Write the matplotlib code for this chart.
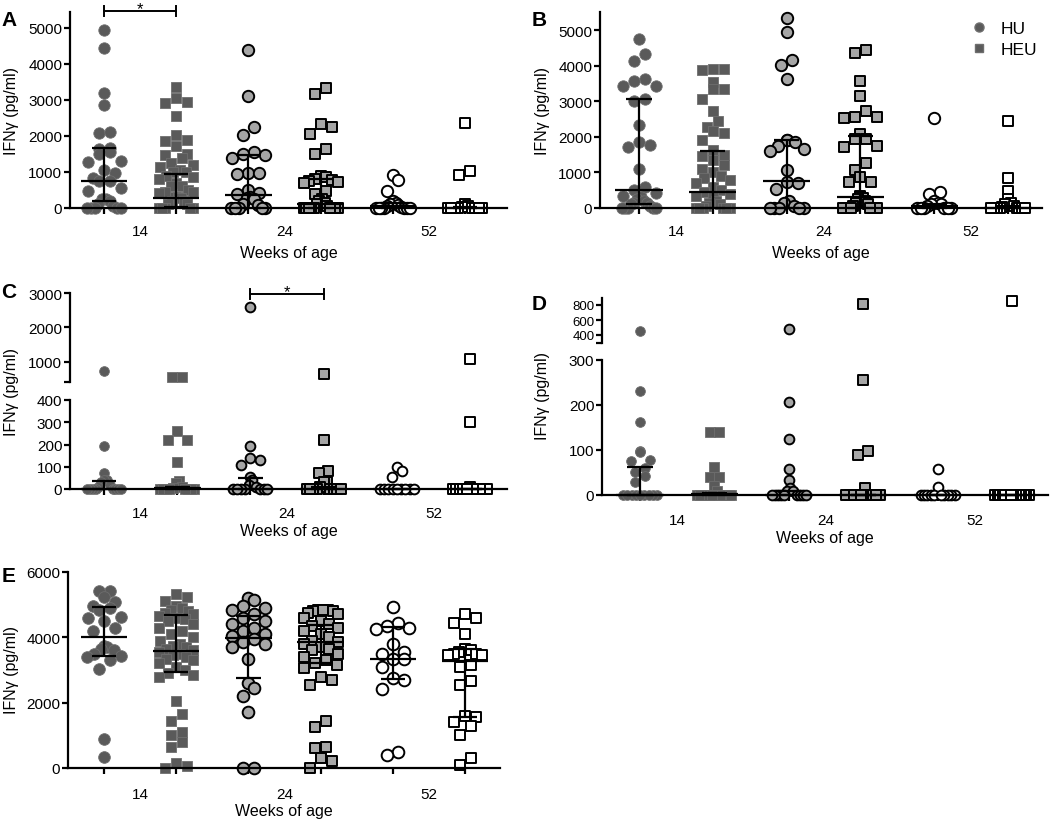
#!/usr/bin/env python3
# ifng_panels.py

import numpy as np
import matplotlib
matplotlib.use("Agg")
import matplotlib.pyplot as plt
from matplotlib.lines import Line2D

plt.rcParams["font.family"] = ["Liberation Sans", "DejaVu Sans"]

W, H = 1050, 820
WEEKS = ["14", "24", "52"]
GROUPS = ["HU", "HEU"]

# Panel A
A_HU14 = [4950, 4450, 3200, 2870, 2080, 2100, 1680, 1650, 1550, 1500, 1300, 1270, 1050, 960,
          820, 760, 740, 560, 480, 260, 250, 200, 100, 60, 0, 0, 0, 0, 0]
A_HEU14 = [3350, 3050, 2950, 2920, 2550, 2020, 1880, 1870, 1720, 1500, 1480, 1400, 1250, 1200,
           1150, 1050, 1000, 990, 900, 850, 800, 700, 620, 600, 500, 450, 450, 420, 300, 300,
           280, 200, 190, 100, 100, 0, 0, 0, 0, 0]
A_HU24 = [4380, 3100, 2250, 2030, 1560, 1490, 1470, 1400, 970, 960, 950, 500, 420, 380, 300,
          270, 250, 100, 80, 0, 0, 0, 0, 0]
A_HEU24 = [3330, 3180, 2330, 2240, 2060, 1650, 1500, 880, 860, 800, 780, 750, 720, 700, 480,
           380, 250, 200, 150, 100, 60, 0, 0, 0, 0, 0, 0, 0, 0, 0]
A_HU52 = [920, 780, 480, 200, 150, 100, 80, 50, 20, 0, 0, 0, 0, 0, 0, 0]
A_HEU52 = [2370, 1020, 920, 100, 60, 30, 0, 0, 0, 0, 0, 0, 0, 0]
A_MED = [760, 280, 360, 120, 50, 0]
A_Q1 = [200, 20, 0, 0, 0, 0]
A_Q3 = [1670, 950, 1460, 800, 150, 40]

# Panel B
B_HU14 = [4740, 4330, 4130, 3620, 3580, 3440, 3420, 3050, 3000, 2330, 1860, 1780, 1700, 1090,
          600, 500, 420, 350, 300, 250, 200, 150, 150, 100, 50, 0, 0, 0, 0, 0]
B_HEU14 = [3900, 3900, 3880, 3550, 3350, 3350, 3060, 2720, 2440, 2280, 2150, 2120, 1900, 1620,
           1500, 1450, 1350, 1200, 1100, 1000, 900, 850, 800, 700, 600, 500, 450, 400, 350,
           300, 200, 150, 100, 50, 0, 0, 0, 0, 0, 0]
B_HU24 = [5330, 4940, 4170, 4020, 3620, 1920, 1900, 1850, 1750, 1650, 1600, 1080, 720, 700,
          530, 200, 150, 60, 0, 0, 0, 0, 0]
B_HEU24 = [4430, 4360, 3570, 3140, 2730, 2570, 2550, 2540, 2080, 1950, 1950, 1750, 1700, 1260,
           1080, 860, 740, 720, 350, 300, 280, 250, 200, 150, 100, 50, 0, 0, 0, 0, 0, 0, 0, 0]
B_HU52 = [2540, 450, 380, 200, 150, 100, 100, 50, 0, 0, 0, 0, 0, 0]
B_HEU52 = [2440, 840, 470, 250, 150, 100, 60, 30, 0, 0, 0, 0, 0, 0, 0, 0]
B_MED = [500, 440, 770, 300, 50, 0]
B_Q1 = [110, 0, 0, 0, 0, 0]
B_Q3 = [3060, 1600, 1900, 2020, 120, 60]

# Panel C (broken axis)
C_HU14 = [750, 195, 70, 40, 40, 30, 20, 10, 0, 0, 0, 0, 0, 0, 0, 0]
C_HEU14 = [570, 560, 260, 220, 220, 120, 35, 25, 10, 5, 0, 0, 0, 0, 0, 0, 0, 0]
C_HU24 = [2600, 195, 140, 130, 110, 55, 40, 20, 10, 0, 0, 0, 0, 0, 0, 0]
C_HEU24 = [650, 220, 80, 70, 30, 30, 10, 0, 0, 0, 0, 0, 0, 0, 0]
C_HU52 = [100, 80, 55, 0, 0, 0, 0, 0, 0, 0, 0, 0]
C_HEU52 = [1080, 300, 10, 0, 0, 0, 0, 0, 0, 0, 0, 0, 0]
C_MED = [0, 5, 0, 0, 0, 0]
C_Q1 = [0, 0, 0, 0, 0, 0]
C_Q3 = [35, 10, 50, 10, 0, 0]

# Panel D (broken axis)
D_HU14 = [450, 232, 162, 98, 95, 78, 75, 60, 52, 42, 28, 0, 0, 0, 0, 0, 0, 0, 0, 0]
D_HEU14 = [140, 140, 63, 40, 40, 20, 10, 0, 0, 0, 0, 0, 0, 0, 0, 0, 0, 0]
D_HU24 = [480, 207, 124, 57, 33, 15, 10, 10, 0, 0, 0, 0, 0, 0, 0, 0, 0]
D_HEU24 = [810, 256, 97, 89, 16, 0, 0, 0, 0, 0, 0, 0, 0, 0]
D_HU52 = [57, 17, 0, 0, 0, 0, 0, 0, 0, 0, 0, 0]
D_HEU52 = [850, 0, 0, 0, 0, 0, 0, 0, 0, 0, 0, 0, 0, 0, 0]
D_MED = [0, 3, 0, 0, 0, 0]
D_Q1 = [0, 0, 0, 0, 0, 0]
D_Q3 = [63, 5, 10, 0, 0, 0]

# Panel E
E_HU14 = [5430, 5430, 5250, 5080, 4950, 4900, 4850, 4620, 4600, 4500, 4300, 4200, 3750, 3700,
          3650, 3600, 3500, 3420, 3400, 3300, 3030, 900, 350]
E_HEU14 = [5330, 5220, 5100, 4950, 4900, 4850, 4800, 4750, 4700, 4650, 4600, 4550, 4500, 4400,
           4300, 4200, 4100, 4000, 3900, 3800, 3750, 3700, 3650, 3600, 3550, 3500, 3450, 3400,
           3350, 3300, 3200, 3100, 3000, 2900, 2850, 2800, 2050, 1650, 1450, 1100, 1000, 800,
           650, 150, 50, 0]
E_HU24 = [5200, 5150, 4950, 4900, 4850, 4700, 4600, 4500, 4400, 4300, 4200, 4100, 4050, 3950,
          3850, 3800, 3700, 3350, 2600, 2450, 2200, 1700, 0, 0]
E_HEU24 = [4850, 4850, 4850, 4800, 4800, 4750, 4700, 4600, 4500, 4400, 4350, 4300, 4200, 4100,
           4000, 3900, 3850, 3800, 3700, 3650, 3600, 3500, 3400, 3300, 3200, 3150, 3050, 2800,
           2700, 2550, 1450, 1250, 650, 600, 300, 200, 0]
E_HU52 = [4930, 4450, 4350, 4300, 4250, 3800, 3550, 3500, 3350, 3350, 3100, 2750, 2700, 2420,
          480, 400]
E_HEU52 = [4700, 4600, 4450, 4100, 3650, 3600, 3550, 3500, 3500, 3450, 3450, 3100, 3150, 2650,
           2550, 1600, 1550, 1400, 1300, 1000, 300, 100]
E_MED = [4000, 3580, 3980, 3850, 3350, 3280]
E_Q1 = [3440, 2940, 2760, 3200, 2720, 1550]
E_Q3 = [4930, 4680, 4660, 4370, 4320, 3650]

FILLS = ["#5a5a5a", "#5a5a5a", "#a6a6a6", "#a6a6a6", "white", "white"]
EDGES = ["#6e6e6e", "#6e6e6e", "black", "black", "black", "black"]
EDGE_W = [0.6, 0.6, 1.4, 1.4, 1.4, 1.4]
MARKERS = ["o", "s", "o", "s", "o", "s"]
YLABEL = "IFN\u03b3 (pg/ml)"
FS = 11

fig = plt.figure(figsize=(W / 100, H / 100), dpi=100)


def px_axes(left, top, right, bottom):
    return fig.add_axes([left / W, 1 - bottom / H, (right - left) / W, (bottom - top) / H])


def style(ax, left, right, first, step, ylim, yticks, ylabels=None, bottom=True,
          ysize=FS, xpad=12, lpad=2.5):
    ax.set_xlim((left - first) / step, (right - first) / step)
    ax.set_ylim(*ylim)
    ax.patch.set_alpha(0)
    for s in ["top", "right"]:
        ax.spines[s].set_visible(False)
    for s in ["left", "bottom"]:
        ax.spines[s].set_linewidth(1.6)
        ax.spines[s].set_zorder(3)
    ax.tick_params(width=1.6, length=4, labelsize=ysize, pad=1.5)
    ax.set_yticks(yticks)
    if ylabels is not None:
        ax.set_yticklabels(ylabels)
    if bottom:
        ax.set_xticks(range(6))
        ax.set_xticklabels([])
        ax.set_xticks([0.5, 2.5, 4.5], minor=True)
        ax.set_xticklabels(WEEKS, minor=True)
        ax.tick_params(axis="x", which="minor", length=0, pad=xpad, labelsize=FS)
        ax.set_xlabel("Weeks of age", fontsize=FS + 0.5, labelpad=lpad)
    else:
        ax.spines["bottom"].set_visible(False)
        ax.set_xticks([])


def spread(ypix, size, half):
    # Prism-like rows: points closer than one symbol share a row,
    # lowest values go to the row ends, highest to the middle
    order = np.argsort(ypix)
    off = np.zeros(len(ypix))
    i = 0
    while i < len(order):
        j = i
        while j + 1 < len(order) and ypix[order[j + 1]] - ypix[order[i]] < size:
            j += 1
        n = j - i + 1
        sp = size if n < 2 else min(size, 2 * half / (n - 1))
        slots = [(k - (n - 1) / 2) * sp for k in range(n)]
        lo, hi = 0, n - 1
        for k in range(n):
            if k % 2 == 0:
                off[order[i + k]] = slots[lo]
                lo += 1
            else:
                off[order[i + k]] = slots[hi]
                hi -= 1
        i = j + 1
    return off


def draw_points(ax_lo, data, size_px, half_px, ms_circle, ms_square, ax_hi=None, brk=None):
    t = ax_lo.transData
    px_x = t.transform((1, 0))[0] - t.transform((0, 0))[0]
    for g, vals in enumerate(data):
        vals = np.asarray(vals, dtype=float)
        if brk is None:
            high = np.zeros(len(vals), dtype=bool)
        else:
            high = vals > brk
        ypix = np.array([(ax_hi if h else ax_lo).transData.transform((0, v))[1]
                         for v, h in zip(vals, high)])
        xs = g + spread(ypix, size_px, half_px) / px_x
        ms = ms_circle if MARKERS[g] == "o" else ms_square
        for ax, m in ((ax_lo, ~high), (ax_hi, high)):
            if ax is None or not m.any():
                continue
            ax.scatter(xs[m], vals[m], s=ms ** 2, marker=MARKERS[g], facecolor=FILLS[g],
                       edgecolor=EDGES[g], linewidths=EDGE_W[g], clip_on=False, zorder=2)


def draw_bars(ax, med, q1, q3, wide=0.32, cap=0.17):
    kw = dict(color="black", lw=1.6, clip_on=False, zorder=4, solid_capstyle="butt")
    for g in range(6):
        ax.plot([g - wide, g + wide], [med[g], med[g]], **kw)
        ax.plot([g, g], [q1[g], q3[g]], **kw)
        for q in (q1[g], q3[g]):
            ax.plot([g - cap, g + cap], [q, q], **kw)


def sig_bar(ax, g0, g1, y, cap):
    kw = dict(color="black", lw=1.4, clip_on=False, zorder=4)
    ax.plot([g0, g1], [y, y], **kw)
    ax.plot([g0, g0], [y - cap, y + cap], **kw)
    ax.plot([g1, g1], [y - cap, y + cap], **kw)
    ax.annotate("*", xy=((g0 + g1) / 2, y), xytext=(0, -1.5), textcoords="offset points",
                ha="center", va="baseline", fontsize=12, annotation_clip=False)


# ---- A ----
ax_a = px_axes(70, 13, 507, 209)
style(ax_a, 70, 507, 104, 72.2, (0, 5444), range(0, 5001, 1000), xpad=11.5, lpad=5)
draw_points(ax_a, [A_HU14, A_HEU14, A_HU24, A_HEU24, A_HU52, A_HEU52], 11, 17, 8.2, 7.6)
draw_bars(ax_a, A_MED, A_Q1, A_Q3)
sig_bar(ax_a, 0, 1, 5470, 130)

# ---- B ----
ax_b = px_axes(600, 13, 1042, 209)
style(ax_b, 600, 1042, 639, 73.8, (0, 5506), range(0, 5001, 1000), xpad=11.5, lpad=5)
draw_points(ax_b, [B_HU14, B_HEU14, B_HU24, B_HEU24, B_HU52, B_HEU52], 11, 17, 8.2, 7.6)
draw_bars(ax_b, B_MED, B_Q1, B_Q3)
handles = [Line2D([], [], ls="", marker=m, ms=s, color="#5a5a5a", markeredgecolor="#6e6e6e")
           for m, s in (("o", 6.5), ("s", 6.0))]
ax_b.legend(handles, GROUPS, loc="upper left", bbox_to_anchor=(955 / W, 1 - 6 / H),
            bbox_transform=fig.transFigure, frameon=False, fontsize=12.5,
            handletextpad=0.7, labelspacing=0.35, handlelength=1.0)

# ---- C ----
ax_c_lo = px_axes(70, 401, 507, 490)
ax_c_hi = px_axes(70, 294, 507, 383)
style(ax_c_lo, 70, 507, 104, 73.2, (0, 400), range(0, 401, 100), xpad=12.5, lpad=2)
style(ax_c_hi, 70, 507, 104, 73.2, (420, 3000), [420, 1000, 2000, 3000],
      ["", "1000", "2000", "3000"], bottom=False)
draw_points(ax_c_lo, [C_HU14, C_HEU14, C_HU24, C_HEU24, C_HU52, C_HEU52], 9.5, 17, 7.0, 6.6,
            ax_hi=ax_c_hi, brk=400)
draw_bars(ax_c_lo, C_MED, C_Q1, C_Q3)
sig_bar(ax_c_hi, 2, 3, 2970, 140)

# ---- D ----
ax_d_lo = px_axes(602, 361, 1048, 496)
ax_d_hi = px_axes(602, 298.5, 1048, 343.5)
style(ax_d_lo, 602, 1048, 640, 74.4, (0, 300), range(0, 301, 100), xpad=13, lpad=2)
style(ax_d_hi, 602, 1048, 640, 74.4, (300, 900), [300, 400, 600, 800],
      ["", "400", "600", "800"], bottom=False, ysize=9.5)
draw_points(ax_d_lo, [D_HU14, D_HEU14, D_HU24, D_HEU24, D_HU52, D_HEU52], 9.5, 17, 7.0, 6.6,
            ax_hi=ax_d_hi, brk=300)
draw_bars(ax_d_lo, D_MED, D_Q1, D_Q3)

# ---- E ----
ax_e = px_axes(68, 573, 500, 769)
style(ax_e, 68, 500, 104, 72.2, (0, 6000), range(0, 6001, 2000), xpad=13.5, lpad=1.5)
draw_points(ax_e, [E_HU14, E_HEU14, E_HU24, E_HEU24, E_HU52, E_HEU52], 11, 17, 8.4, 7.8)
draw_bars(ax_e, E_MED, E_Q1, E_Q3)

# y labels and panel letters
for x, y in ((12, 111), (543, 111), (12, 392), (542, 396), (12, 670)):
    fig.text(x / W, 1 - y / H, YLABEL, rotation=90, ha="center", va="center", fontsize=FS + 0.5)
for letter, x, y in (("A", 9, 20), ("B", 539, 20), ("C", 9, 292), ("D", 539, 305), ("E", 9, 577)):
    fig.text(x / W, 1 - y / H, letter, ha="center", va="center", fontsize=15, fontweight="bold")

fig.savefig("out.png", dpi=100)
